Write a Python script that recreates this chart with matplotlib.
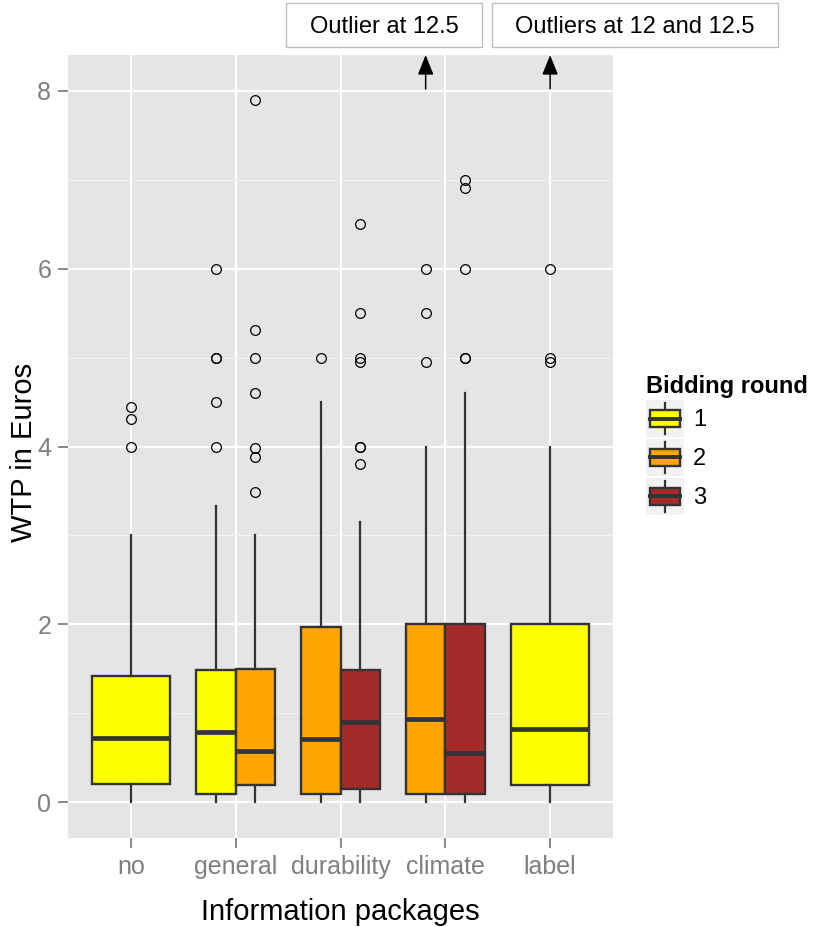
import matplotlib
matplotlib.use('Agg')
import matplotlib.pyplot as plt
import matplotlib.transforms as mtransforms
from matplotlib.patches import Rectangle, Patch
from matplotlib.lines import Line2D
from matplotlib.legend_handler import HandlerBase
from matplotlib.ticker import MultipleLocator

plt.rcParams['font.family'] = ['Liberation Sans', 'DejaVu Sans']

# data
packages = ['no', 'general', 'durability', 'climate', 'label']
rounds = ['1', '2', '3']
round_colors = ['#FFFF00', '#FFA500', '#A52A2A']

box_package = ['no', 'general', 'general', 'durability', 'durability', 'climate', 'climate', 'label']
box_round = ['1', '1', '2', '2', '3', '2', '3', '1']
whis_lo = [0, 0, 0, 0, 0, 0, 0, 0]
q1 = [0.21, 0.10, 0.20, 0.10, 0.15, 0.10, 0.10, 0.20]
med = [0.72, 0.79, 0.58, 0.71, 0.90, 0.94, 0.55, 0.83]
q3 = [1.42, 1.49, 1.50, 1.97, 1.49, 2.00, 2.00, 2.00]
whis_hi = [3.0, 3.33, 3.0, 4.5, 3.15, 4.0, 4.6, 4.0]
fliers = [
    [4.0, 4.31, 4.44],
    [4.0, 4.5, 5.0, 5.0, 6.0],
    [3.49, 3.88, 3.98, 4.6, 5.0, 5.31, 7.89],
    [5.0],
    [3.8, 4.0, 4.0, 4.95, 5.0, 5.5, 6.5],
    [4.95, 5.5, 6.0, 12.5],
    [5.0, 5.0, 6.0, 6.9, 7.0],
    [4.95, 5.0, 6.0, 12.0, 12.5],
]

notes = ['Outlier at 12.5', 'Outliers at 12 and 12.5']
note_boxes = [5, 7]   # climate round 2, label round 1

EDGE = '#333333'
GREY = '#7F7F7F'

# dodge positions (ggplot style, total width 0.75)
positions, widths = [], []
for i, p in enumerate(box_package):
    grp = [j for j, q in enumerate(box_package) if q == p]
    n = len(grp)
    k = grp.index(i)
    w = 0.75 / n
    positions.append(packages.index(p) + (k - (n - 1) / 2) * w)
    widths.append(w)

stats = []
for i in range(len(box_package)):
    stats.append(dict(whislo=whis_lo[i], q1=q1[i], med=med[i], q3=q3[i],
                      whishi=whis_hi[i], fliers=fliers[i]))

fig = plt.figure(figsize=(8.22, 9.27), dpi=100)
ax = fig.add_axes([68 / 822, 89 / 927, 545 / 822, 783 / 927])
ax.set_facecolor('#E5E5E5')

bp = ax.bxp(stats, positions=positions, widths=widths, patch_artist=True,
            showcaps=False, manage_ticks=False,
            boxprops=dict(edgecolor=EDGE, linewidth=1.7),
            whiskerprops=dict(color=EDGE, linewidth=1.6),
            medianprops=dict(color=EDGE, linewidth=3.4, solid_capstyle='butt'),
            flierprops=dict(marker='o', markerfacecolor='none', markeredgecolor='black',
                            markersize=7, markeredgewidth=0.9))
for patch, r in zip(bp['boxes'], box_round):
    patch.set_facecolor(round_colors[rounds.index(r)])

ax.set_xlim(-0.6, 4.6)
ax.set_ylim(-0.4, 8.4)
ax.set_xticks(range(len(packages)))
ax.set_xticklabels(packages)
ax.yaxis.set_major_locator(MultipleLocator(2))
ax.yaxis.set_minor_locator(MultipleLocator(1))
ax.tick_params(which='major', colors=GREY, labelsize=18, length=7, width=1.3, pad=5)
ax.tick_params(which='minor', length=0)
ax.set_axisbelow(True)
ax.grid(which='major', color='white', linewidth=1.5)
ax.grid(which='minor', axis='y', color='#F2F2F2', linewidth=0.8)
for s in ax.spines.values():
    s.set_visible(False)

ax.set_xlabel('Information packages', fontsize=21, va='center')
ax.xaxis.set_label_coords(0.5, -0.094)
ax.set_ylabel('WTP in Euros', fontsize=21, va='center')
ax.yaxis.set_label_coords(-0.081, 0.493)

# arrows to outliers outside the shown range
trans = mtransforms.blended_transform_factory(ax.transData, ax.transAxes)
for b in note_boxes:
    ax.annotate('', xy=(positions[b], 1.0), xycoords=trans,
                xytext=(positions[b], 8.02), textcoords='data',
                annotation_clip=False,
                arrowprops=dict(arrowstyle='-|>,head_length=0.55,head_width=0.22',
                                color='black', lw=1.1, mutation_scale=22,
                                shrinkA=0, shrinkB=0))

# note boxes above the panel (pixel layout)
note_rects = [(286, 482), (492, 778)]
for txt, (x0, x1) in zip(notes, note_rects):
    fig.add_artist(Rectangle((x0 / 822, 1 - 47 / 927), (x1 - x0) / 822, 44 / 927,
                             transform=fig.transFigure, facecolor='white',
                             edgecolor='#BDBDBD', linewidth=1.0))
    fig.text((x0 + x1) / 2 / 822, 1 - 27 / 927, txt, ha='center', va='center',
             fontsize=17, color='black')


class BoxKey(HandlerBase):
    def create_artists(self, legend, orig_handle, xdescent, ydescent,
                       width, height, fontsize, trans):
        x0, y0 = -xdescent, -ydescent
        bg = Rectangle((x0, y0), width, height, facecolor='#F2F2F2',
                       edgecolor='none', transform=trans)
        cx = x0 + width / 2
        wl = Line2D([cx, cx], [y0 + 0.08 * height, y0 + 0.92 * height],
                    color=EDGE, lw=1.6, transform=trans)
        box = Rectangle((x0 + 0.1 * width, y0 + 0.26 * height), 0.8 * width,
                        0.48 * height, facecolor=orig_handle.get_facecolor(),
                        edgecolor=EDGE, lw=1.7, transform=trans)
        md = Line2D([x0 + 0.1 * width, x0 + 0.9 * width], [y0 + height / 2] * 2,
                    color=EDGE, lw=2.8, transform=trans)
        return [bg, wl, box, md]


handles = [Patch(facecolor=c) for c in round_colors]
leg = fig.legend(handles, rounds, loc='upper left',
                 bbox_to_anchor=(646 / 822, 1 - 375 / 927),
                 handler_map={Patch: BoxKey()}, frameon=False,
                 title='Bidding round', fontsize=17, borderpad=0,
                 borderaxespad=0, handlelength=1.6, handleheight=2.0,
                 labelspacing=0.1, handletextpad=0.4)
leg.get_title().set_fontsize(17)
leg.get_title().set_fontweight('bold')
leg._legend_box.align = 'left'

fig.savefig('out.png', dpi=100)
